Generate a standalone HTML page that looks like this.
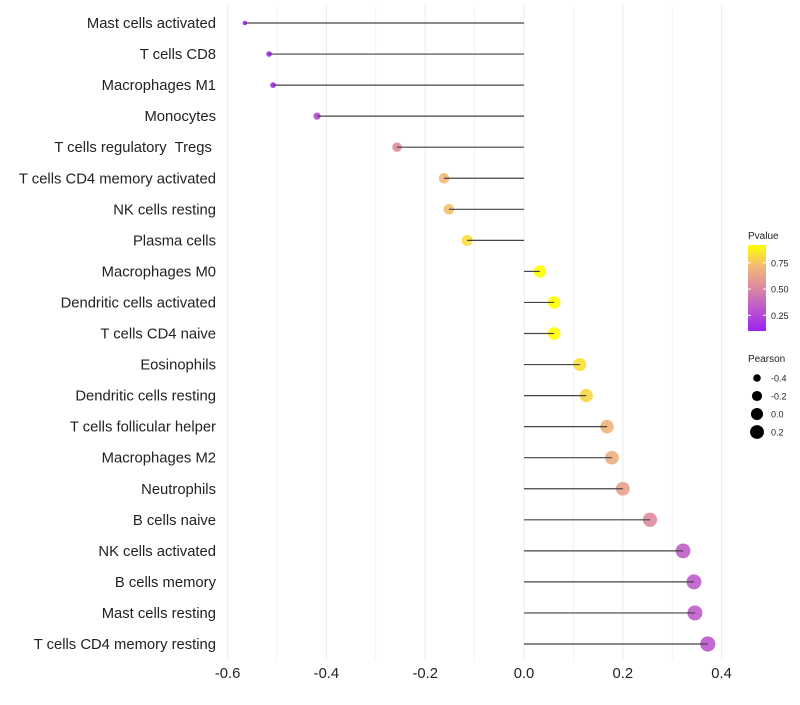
<!DOCTYPE html>
<html><head><meta charset="utf-8"><style>
body{margin:0;background:#fff;font-family:"Liberation Sans",sans-serif}
svg text{white-space:pre}
</style></head><body>
<svg id="c" width="800" height="700" xmlns="http://www.w3.org/2000/svg">
<defs><linearGradient id="g" x1="0" y1="1" x2="0" y2="0">
<stop offset="0" stop-color="#a020f0"/><stop offset="0.3" stop-color="#c060c8"/><stop offset="0.5" stop-color="#dd88a0"/><stop offset="0.75" stop-color="#f2b878"/><stop offset="1" stop-color="#ffff00"/>
</linearGradient></defs>
</svg>
<script>
const categories=["Mast cells activated","T cells CD8","Macrophages M1","Monocytes","T cells regulatory  Tregs ","T cells CD4 memory activated","NK cells resting","Plasma cells","Macrophages M0","Dendritic cells activated","T cells CD4 naive","Eosinophils","Dendritic cells resting","T cells follicular helper","Macrophages M2","Neutrophils","B cells naive","NK cells activated","B cells memory","Mast cells resting","T cells CD4 memory resting"];
const pearson=[-0.565,-0.516,-0.508,-0.419,-0.257,-0.162,-0.152,-0.115,0.032,0.061,0.061,0.113,0.126,0.168,0.178,0.2,0.255,0.322,0.344,0.346,0.372];
const pvalue=[0.1,0.12,0.13,0.26,0.52,0.72,0.74,0.82,0.95,0.93,0.93,0.83,0.8,0.7,0.67,0.62,0.52,0.34,0.33,0.33,0.31];
const xTicks=[-0.6,-0.4,-0.2,0.0,0.2,0.4];
const legendP=[0.25,0.5,0.75];
const legendSize=[-0.4,-0.2,0.0,0.2];
const svg=document.getElementById('c');const NS="http://www.w3.org/2000/svg";
function mk(t,a,txt){const e=document.createElementNS(NS,t);for(const k in a)e.setAttribute(k,a[k]);if(txt!=null)e.textContent=txt;svg.appendChild(e);return e;}
const x=v=>524+(v)*494;
const y=i=>23+i*31.05;
const pMin=0.1,pMax=0.92;
const stops=[[0,[160,32,240]],[0.3,[192,96,200]],[0.5,[221,136,160]],[0.75,[242,184,120]],[1,[255,255,0]]];
function col(p){let t=Math.max(0,Math.min(1,(p-pMin)/(pMax-pMin)));for(let i=1;i<stops.length;i++){if(t<=stops[i][0]){const a=stops[i-1],b=stops[i];const f=(t-a[0])/(b[0]-a[0]);return 'rgb('+a[1].map((v,j)=>Math.round(v+(b[1][j]-v)*f)).join(',')+')';}}return 'rgb(255,255,0)';}
const r=v=>Math.sqrt(Math.max(4,5+56*(v+0.565)));
for(let v=-0.6;v<=0.41;v+=0.1){const g=mk('line',{x1:x(v),x2:x(v),y1:5,y2:660,stroke:'#ebebeb','stroke-width':Math.abs(Math.round(v*10))%2==0?1:0.6});}
xTicks.forEach(v=>{const t=mk('text',{x:x(v),y:678,'text-anchor':'middle','font-size':14.8,fill:'#222'},v.toFixed(1));});
categories.forEach((c,i)=>{
 const t=mk('text',{x:216,y:y(i)+5,'text-anchor':'end','font-size':14.8,fill:'#222'},c);
 
 const p=mk('circle',{cx:x(pearson[i]),cy:y(i),r:r(pearson[i]),fill:col(pvalue[i]),opacity:0.9});
 
 const l=mk('line',{x1:x(0),x2:x(pearson[i]),y1:y(i),y2:y(i),stroke:'#444','stroke-width':1.2});
 
});
let e=mk('text',{x:748,y:239,'font-size':10,fill:'#222'},'Pvalue');
e=mk('rect',{x:748,y:245,width:18,height:86,fill:'url(#g)'});
legendP.forEach(p=>{const yy=331-(p-pMin)/(pMax-pMin)*86;mk('line',{x1:748,x2:751,y1:yy,y2:yy,stroke:'#fff'});mk('line',{x1:763,x2:766,y1:yy,y2:yy,stroke:'#fff'});const t=mk('text',{x:771,y:yy+3.5,'font-size':9,fill:'#222'},p.toFixed(2));});
e=mk('text',{x:748,y:362,'font-size':10,fill:'#222'},'Pearson');
legendSize.forEach((v,i)=>{const yy=378+i*18;const c=mk('circle',{cx:757,cy:yy,r:r(v),fill:'#000'});const t=mk('text',{x:771,y:yy+3.5,'font-size':9,fill:'#222'},v.toFixed(1));});
</script>
</body></html>
